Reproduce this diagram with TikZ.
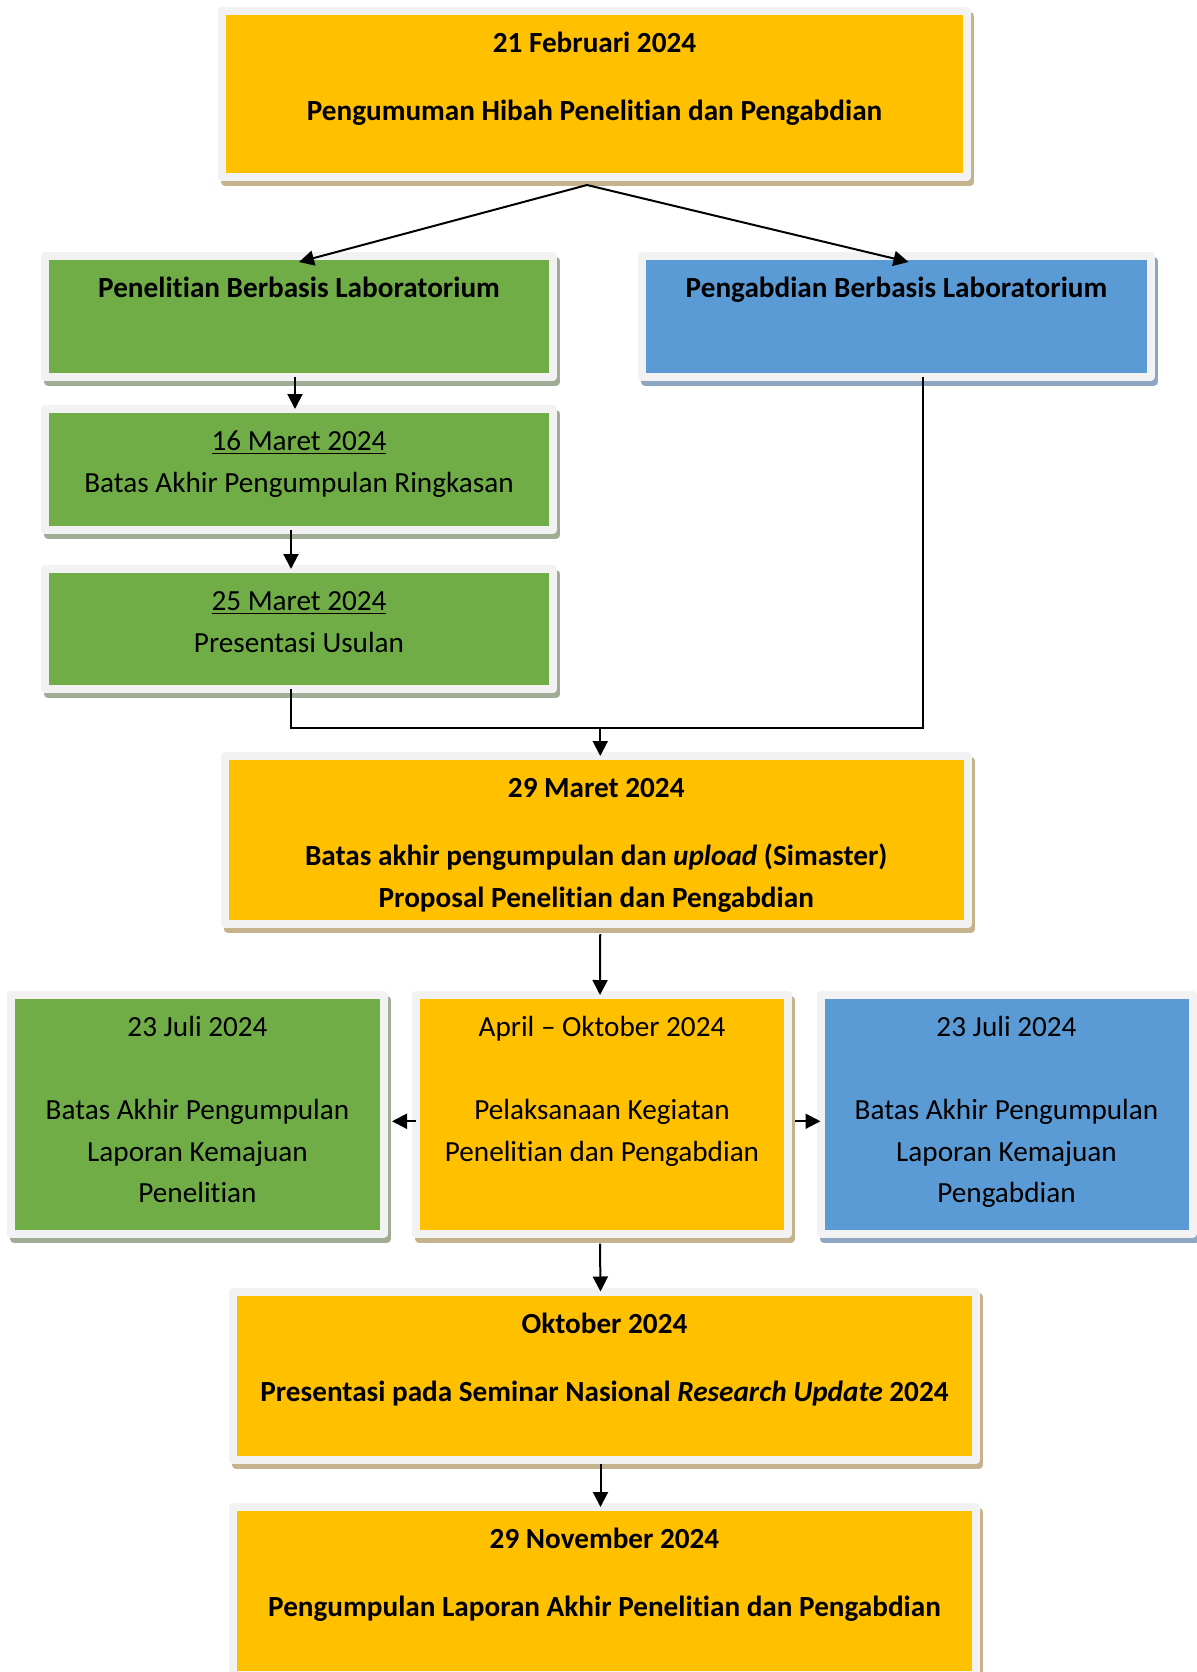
\documentclass[tikz,border=0pt]{standalone}
\usepackage{fontspec}
\setmainfont{Carlito}[RawFeature={-liga;-clig;-calt}]
\usepackage{tikz}
\usetikzlibrary{calc}
\usetikzlibrary{arrows.meta}
\usetikzlibrary{positioning}

\definecolor{kuning}{HTML}{FFC000}
\definecolor{hijau}{HTML}{70AD47}
\definecolor{biru}{HTML}{5B9BD5}
\definecolor{bingkai}{HTML}{F2F2F2}
\definecolor{bayangkuning}{HTML}{C4B38C}
\definecolor{bayanghijau}{HTML}{A0AC96}
\definecolor{bayangbiru}{HTML}{8EA6C2}

% text block whose baseline is its first line
\newcommand{\baris}[1]{\begin{tabular}[t]{@{}c@{}}#1\end{tabular}}

\begin{document}
\begin{tikzpicture}[x=0.5pt, y=-0.5pt, line cap=round, line join=round,
    >={Triangle[length=7.5pt,width=7.5pt]},
    kotak/.style 2 args={fill=#1, draw=bingkai, line width=4pt, outer sep=0pt, inner sep=0pt,
      preaction={draw=#2, fill=#2, transform canvas={xshift=1.5pt, yshift=-2.5pt}}},
    yellowbox/.style={kotak={kuning}{bayangkuning}},
    greenbox/.style={kotak={hijau}{bayanghijau}},
    bluebox/.style={kotak={biru}{bayangbiru}},
    teks/.style={anchor=base, inner sep=0pt, font=\fontsize{14.6pt}{20.75pt}\selectfont},
    tebal/.style={teks, font=\fontsize{14.6pt}{20.75pt}\selectfont\bfseries},
    garis/.style={line width=1pt, line cap=butt, line join=miter}]
  \useasboundingbox (0,0) rectangle (1196,1672);
  %--- Pengumuman
    \node[yellowbox, minimum width=372.5pt, minimum height=83pt] (umum) at (594.5,94) {};
    \node[tebal] (t-umum) at ($(umum.north)+(0,41.5)$) {\baris{21 Februari 2024\\[13.25pt]
      Pengumuman Hibah Penelitian dan Pengabdian}};
  %--- Penelitian
    \node[greenbox, minimum width=254.25pt, minimum height=60.25pt] (penelitian) at (299,316.25) {};
    \node[tebal] (t-penelitian) at ($(penelitian.north)+(0,41.5)$) {Penelitian Berbasis Laboratorium};
    \node[greenbox, minimum width=254.25pt, minimum height=60.25pt] (ringkasan) at (299,469.25) {};
    \node[teks] (t-ringkasan) at ($(ringkasan.north)+(0,41.5)$) {\baris{\underline{16 Maret 2024}\\
      Batas Akhir Pengumpulan Ringkasan}};
    \node[greenbox, minimum width=254.25pt, minimum height=60pt] (usulan) at (299,629) {};
    \node[teks] (t-usulan) at ($(usulan.north)+(0,41.5)$) {\baris{\underline{25 Maret 2024}\\
      Presentasi Usulan}};
  %--- Pengabdian
    \node[bluebox, minimum width=254.25pt, minimum height=60.25pt] (pengabdian) at (896.5,316.25) {};
    \node[tebal] (t-pengabdian) at ($(pengabdian.north)+(0,41.5)$) {Pengabdian Berbasis Laboratorium};
  %--- Proposal
    \node[yellowbox, minimum width=371.75pt, minimum height=84pt] (proposal) at (596.25,840) {};
    \node[tebal] (t-proposal) at ($(proposal.north)+(0,41.5)$) {\baris{29 Maret 2024\\[13.25pt]
      Batas akhir pengumpulan dan \textit{upload} (Simaster)\\
      Proposal Penelitian dan Pengabdian}};
  %--- Pelaksanaan dan laporan kemajuan
    \node[greenbox, minimum width=186.5pt, minimum height=119.25pt] (lapPenelitian) at (197.5,1114.25) {};
    \node[teks] (t-lapPenelitian) at ($(lapPenelitian.north)+(0,41.5)$) {\baris{23 Juli 2024\\[20.75pt]
      Batas Akhir Pengumpulan\\ Laporan Kemajuan\\ Penelitian}};
    \node[yellowbox, minimum width=186pt, minimum height=119.25pt] (pelaksanaan) at (602,1114.25) {};
    \node[teks] (t-pelaksanaan) at ($(pelaksanaan.north)+(0,41.5)$) {\baris{April – Oktober 2024\\[20.75pt]
      Pelaksanaan Kegiatan\\ Penelitian dan Pengabdian}};
    \node[bluebox, minimum width=186pt, minimum height=119.25pt] (lapPengabdian) at (1006.5,1114.25) {};
    \node[teks] (t-lapPengabdian) at ($(lapPengabdian.north)+(0,41.5)$) {\baris{23 Juli 2024\\[20.75pt]
      Batas Akhir Pengumpulan\\ Laporan Kemajuan\\ Pengabdian}};
  %--- Seminar
    \node[yellowbox, minimum width=371.5pt, minimum height=84.25pt] (seminar) at (604.5,1375.75) {};
    \node[tebal] (t-seminar) at ($(seminar.north)+(0,41.5)$) {\baris{Oktober 2024\\[13.25pt]
      Presentasi pada Seminar Nasional \textit{Research Update} 2024}};
  %--- Laporan akhir
    \node[yellowbox, minimum width=371.5pt, minimum height=84pt] (laporanAkhir) at (604.5,1591) {};
    \node[tebal] (t-laporanAkhir) at ($(laporanAkhir.north)+(0,41.5)$) {\baris{29 November 2024\\[13.25pt]
      Pengumpulan Laporan Akhir Penelitian dan Pengabdian}};
  %--- Panah
    \coordinate (cabang) at ($(umum.south)+(-7.5,8)$);
    \draw[garis, ->] (cabang) -- ([yshift=-3pt]penelitian.north);
    \draw[garis, ->] (cabang) -- ([xshift=6pt,yshift=-3pt]pengabdian.north);
    \draw[garis, ->] ([xshift=-2pt]penelitian.south) -- ([xshift=-2pt]ringkasan.north);
    \draw[garis, ->] ([xshift=-4pt]ringkasan.south) -- ([xshift=-4pt]usulan.north);
    \coordinate (gabung) at ($(proposal.north)+(4,-28)$);
    \draw[garis] ([xshift=-4pt]usulan.south) |- (gabung) -| ([xshift=13pt]pengabdian.south);
    \draw[garis, ->] (gabung) -- ([xshift=2pt]proposal.north);
    \draw[garis, ->] ([xshift=2pt,yshift=-5pt]proposal.south) -- ([xshift=-1pt]pelaksanaan.north);
    \draw[garis, ->] ([yshift=-3.5pt]pelaksanaan.west) -- ([xshift=4pt,yshift=-3.5pt]lapPenelitian.east);
    \draw[garis, ->] ([xshift=3.5pt,yshift=-3.5pt]pelaksanaan.east) -- ([yshift=-3.5pt]lapPengabdian.west);
    \draw[garis, ->] ([xshift=-1pt,yshift=-5pt]pelaksanaan.south) -- ([xshift=-2pt]seminar.north);
    \draw[garis, ->] ([xshift=-2pt,yshift=-2pt]seminar.south) -- ([xshift=-2pt]laporanAkhir.north);
\end{tikzpicture}
\end{document}
